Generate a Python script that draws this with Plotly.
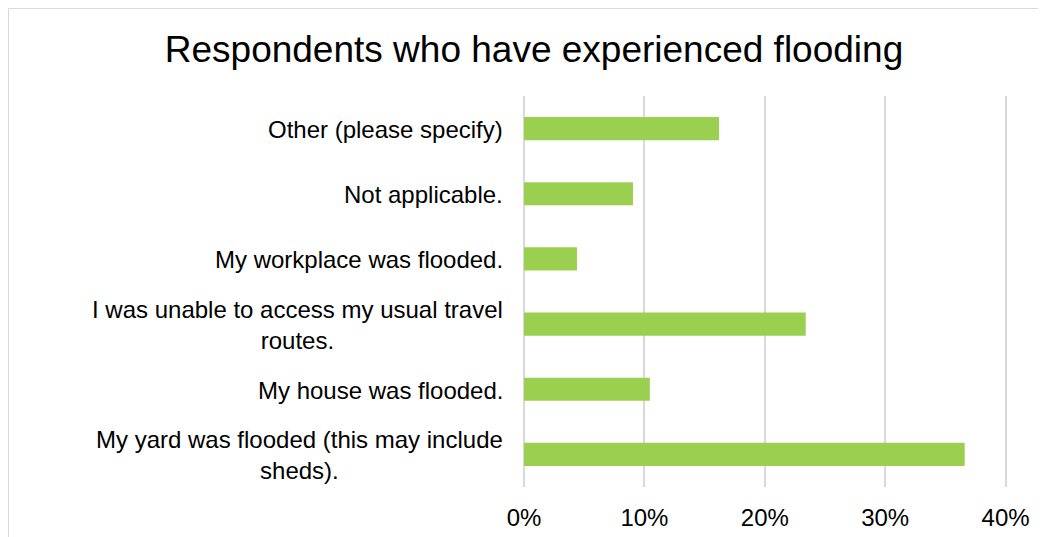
import plotly.graph_objects as go

# categories listed bottom to top, as the chart draws them
categories = [
    "My yard was flooded (this may include<br>sheds).",
    "My house was flooded.",
    "I was unable to access my usual travel<br>routes.",
    "My workplace was flooded.",
    "Not applicable.",
    "Other (please specify)",
]
shares = [0.366, 0.1045, 0.234, 0.044, 0.0905, 0.162]
x_ticks = [0, 0.1, 0.2, 0.3, 0.4]
x_tick_labels = ["0%", "10%", "20%", "30%", "40%"]

FONT = "Liberation Sans, Arial, sans-serif"
W, H = 1046, 537
# the page adds an 8px body margin, so the figure sits 8px in
L, R, T, B = 516, 46, 88, 58

fig = go.Figure(
    go.Bar(
        x=shares,
        y=categories,
        orientation="h",
        marker=dict(color="#9BCF50", line=dict(width=0)),
    )
)

# category labels as annotations so wrapped lines are centred
for c in categories:
    fig.add_annotation(
        x=0, xref="paper", y=c, yref="y",
        text=c, showarrow=False,
        xanchor="right", align="center", xshift=-19, yshift=-1,
        font=dict(family=FONT, size=24, color="#000000"),
    )

# chart border (cut off at right and bottom)
pw = W - L - R
ph = H - T - B
fig.add_shape(
    type="rect", xref="paper", yref="paper",
    x0=(0.5 - L) / pw, x1=1.3,
    y0=-0.3, y1=(H - B - 0.5) / ph,
    line=dict(color="#d9d9d9", width=1),
    layer="below",
)

fig.update_layout(
    width=W, height=H,
    margin=dict(l=L, r=R, t=T, b=B),
    paper_bgcolor="white", plot_bgcolor="white",
    showlegend=False,
    bargap=0.645,
    title=dict(
        text="Respondents who have experienced flooding",
        x=526 / W, xref="container", xanchor="center",
        y=1 - 41 / H, yref="container", yanchor="middle",
        font=dict(family=FONT, size=37, color="#000000"),
    ),
    xaxis=dict(
        # a hair past 40% so the last gridline is kept
        range=[0, 0.402],
        tickvals=x_ticks, ticktext=x_tick_labels,
        showgrid=True, gridcolor="#d9d9d9", gridwidth=1.5,
        zeroline=True, zerolinecolor="#d9d9d9", zerolinewidth=1.5,
        showline=False,
        ticks="outside", ticklen=9, tickcolor="rgba(0,0,0,0)",
        tickfont=dict(family=FONT, size=24, color="#000000"),
    ),
    yaxis=dict(
        showticklabels=False, showgrid=False, zeroline=False, showline=False,
    ),
)

fig.write_html("out.html")
